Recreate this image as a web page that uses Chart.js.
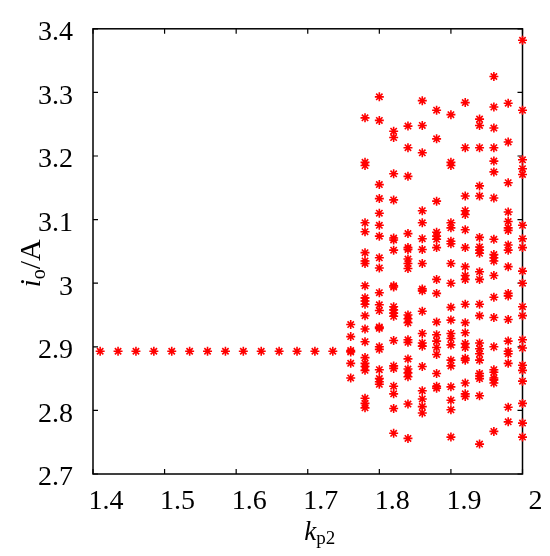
<!DOCTYPE html>
<html>
<head>
<meta charset="utf-8">
<script src="https://cdn.jsdelivr.net/npm/chart.js@4.4.0/dist/chart.umd.min.js"></script>
<style>
  html, body { margin: 0; padding: 0; background: #fff; }
  #wrap { width: 550px; height: 556px; }
</style>
</head>
<body>
<div id="wrap"><canvas id="ioChart"></canvas></div>
<script>
const xTicks = [1.4, 1.5, 1.6, 1.7, 1.8, 1.9, 2]
const yTicks = [2.7, 2.8, 2.9, 3, 3.1, 3.2, 3.3, 3.4]

// flat part: io does not move until kp2 reaches ~1.75
const kpSteady = [1.410, 1.435, 1.460, 1.485, 1.510, 1.535, 1.560, 1.585, 1.610, 1.635, 1.660, 1.685, 1.710, 1.735]
const ioSteady = [2.893, 2.893, 2.893, 2.893, 2.893, 2.893, 2.893, 2.893, 2.893, 2.893, 2.893, 2.893, 2.893, 2.893]

// scattered part, one list per kp2 column
const kpCols = [1.76, 1.78, 1.80, 1.82, 1.84, 1.86, 1.88, 1.90, 1.92, 1.94, 1.96, 1.98, 2.00]
const io176 = [2.935, 2.916, 2.894, 2.892, 2.874, 2.851]
const io178 = [3.260, 3.190, 3.185, 3.095, 3.081, 3.048, 3.035, 3.031, 2.996, 2.977, 2.972, 2.967, 2.949, 2.928, 2.908, 2.883, 2.874, 2.869, 2.863, 2.819, 2.811, 2.804]
const io180 = [3.293, 3.256, 3.155, 3.133, 3.110, 3.091, 3.074, 3.040, 3.024, 2.985, 2.966, 2.957, 2.931, 2.929, 2.900, 2.896, 2.864, 2.850, 2.845, 2.841]
const io182 = [3.239, 3.229, 3.172, 3.131, 3.071, 3.068, 3.052, 2.996, 2.994, 2.963, 2.958, 2.953, 2.948, 2.910, 2.870, 2.866, 2.838, 2.826, 2.803, 2.764]
const io184 = [3.247, 3.213, 3.168, 3.078, 3.056, 3.053, 3.038, 3.031, 3.023, 2.950, 2.944, 2.938, 2.911, 2.907, 2.881, 2.865, 2.859, 2.853, 2.810, 2.756]
const io186 = [3.287, 3.248, 3.205, 3.114, 3.095, 3.070, 3.053, 3.031, 2.991, 2.988, 2.956, 2.921, 2.906, 2.901, 2.869, 2.831, 2.818, 2.806, 2.796]
const io188 = [3.272, 3.227, 3.129, 3.080, 3.074, 3.069, 3.056, 3.006, 2.984, 2.939, 2.919, 2.909, 2.899, 2.888, 2.858, 2.838, 2.835]
const io190 = [3.265, 3.190, 3.185, 3.095, 3.087, 3.066, 3.062, 3.031, 3.000, 2.962, 2.942, 2.921, 2.913, 2.903, 2.879, 2.870, 2.837, 2.816, 2.801, 2.758]
const io192 = [3.284, 3.213, 3.137, 3.114, 3.108, 3.084, 3.056, 3.026, 3.012, 3.006, 2.967, 2.938, 2.922, 2.905, 2.899, 2.882, 2.879, 2.843, 2.826, 2.822]
const io194 = [3.258, 3.248, 3.213, 3.153, 3.137, 3.072, 3.057, 3.052, 3.047, 3.018, 3.006, 2.967, 2.949, 2.906, 2.897, 2.889, 2.879, 2.858, 2.854, 2.850, 2.823, 2.747]
const io196 = [3.325, 3.277, 3.244, 3.213, 3.192, 3.175, 3.134, 3.069, 3.045, 3.040, 3.035, 3.012, 2.978, 2.946, 2.900, 2.864, 2.860, 2.851, 2.848, 2.843, 2.767]
const io198 = [3.283, 3.222, 3.158, 3.112, 3.097, 3.087, 3.083, 3.060, 3.052, 3.026, 2.984, 2.980, 2.943, 2.909, 2.893, 2.889, 2.874, 2.805, 2.782]
const io200 = [3.382, 3.272, 3.194, 3.180, 3.171, 3.091, 3.070, 3.056, 3.019, 3.000, 2.963, 2.949, 2.911, 2.898, 2.871, 2.863, 2.846, 2.811, 2.780, 2.758]
const ioCols = [io176, io178, io180, io182, io184, io186, io188, io190, io192, io194, io196, io198, io200]

const points = kpSteady.map((k, i) => ({ x: k, y: ioSteady[i] }))
kpCols.forEach((k, i) => {
    ioCols[i].forEach(v => points.push({ x: k, y: v }))
})

const serif = '"Liberation Serif", "Times New Roman", serif'
const fmt = v => Number(v.toFixed(1)).toString()

// box round the plot with small inward ticks on all four sides
const frame = {
    id: 'frame',
    beforeDatasetsDraw(chart) {
        const { ctx, chartArea: a, scales } = chart
        const len = 5
        ctx.save()
        ctx.strokeStyle = '#000'
        ctx.lineWidth = 1.5
        ctx.strokeRect(a.left, a.top, a.right - a.left, a.bottom - a.top)
        ctx.lineWidth = 1.2
        ctx.beginPath()
        xTicks.forEach(v => {
            const px = scales.x.getPixelForValue(v)
            ctx.moveTo(px, a.bottom); ctx.lineTo(px, a.bottom - len)
            ctx.moveTo(px, a.top); ctx.lineTo(px, a.top + len)
        })
        yTicks.forEach(v => {
            const py = scales.y.getPixelForValue(v)
            ctx.moveTo(a.left, py); ctx.lineTo(a.left + len, py)
            ctx.moveTo(a.right, py); ctx.lineTo(a.right - len, py)
        })
        ctx.stroke()
        ctx.restore()
    }
}

// axis titles with italic symbol and subscript
const titles = {
    id: 'titles',
    afterDraw(chart) {
        const { ctx, chartArea: a } = chart
        ctx.save()
        ctx.fillStyle = '#000'
        ctx.textBaseline = 'alphabetic'

        // x: k_p2
        ctx.font = 'italic 27px ' + serif
        const wk = ctx.measureText('k').width
        ctx.font = '19px ' + serif
        const ws = ctx.measureText('p2').width
        let x0 = (a.left + a.right) / 2 + 12 - (wk + ws) / 2
        const yb = 540
        ctx.font = 'italic 27px ' + serif
        ctx.fillText('k', x0, yb)
        ctx.font = '19px ' + serif
        ctx.fillText('p2', x0 + wk, yb + 4)

        // y: i_o/A, rotated
        ctx.translate(40, (a.top + a.bottom) / 2 + 12)
        ctx.rotate(-Math.PI / 2)
        ctx.font = 'italic 30px ' + serif
        const wi = ctx.measureText('i').width
        ctx.font = '20px ' + serif
        const wo = ctx.measureText('o').width
        ctx.font = '30px ' + serif
        const wa = ctx.measureText('/A').width
        let s = -(wi + wo + wa) / 2
        ctx.font = 'italic 30px ' + serif
        ctx.fillText('i', s, 0)
        ctx.font = '20px ' + serif
        ctx.fillText('o', s + wi, 5)
        ctx.font = '30px ' + serif
        ctx.fillText('/A', s + wi + wo, 0)
        ctx.restore()
    }
}

new Chart(document.getElementById('ioChart'), {
    type: 'scatter',
    data: {
        datasets: [{
            data: points,
            pointStyle: 'star',
            pointRadius: 4.5,
            pointHoverRadius: 4.5,
            borderColor: '#ff0000',
            backgroundColor: '#ff0000',
            borderWidth: 1.6,
            clip: false
        }]
    },
    options: {
        responsive: true,
        maintainAspectRatio: false,
        animation: false,
        layout: { padding: { top: 16, right: 27.5, left: 0, bottom: 0 } },
        plugins: {
            legend: { display: false },
            tooltip: { enabled: false }
        },
        scales: {
            x: {
                type: 'linear',
                min: 1.4,
                max: 2,
                afterBuildTicks: scale => { scale.ticks = xTicks.map(v => ({ value: v })) },
                afterFit: scale => { scale.height = 82 },
                grid: { display: false },
                border: { display: false },
                ticks: {
                    color: '#000',
                    font: { family: serif, size: 28 },
                    padding: 3,
                    labelOffset: 13,
                    maxRotation: 0,
                    autoSkip: false,
                    callback: v => fmt(v)
                }
            },
            y: {
                type: 'linear',
                min: 2.7,
                max: 3.4,
                afterBuildTicks: scale => { scale.ticks = yTicks.map(v => ({ value: v })) },
                afterFit: scale => { scale.width = 93 },
                grid: { display: false },
                border: { display: false },
                ticks: {
                    color: '#000',
                    font: { family: serif, size: 28 },
                    padding: 12,
                    labelOffset: 4,
                    autoSkip: false,
                    callback: v => fmt(v)
                }
            }
        }
    },
    plugins: [frame, titles]
})
</script>
</body>
</html>
